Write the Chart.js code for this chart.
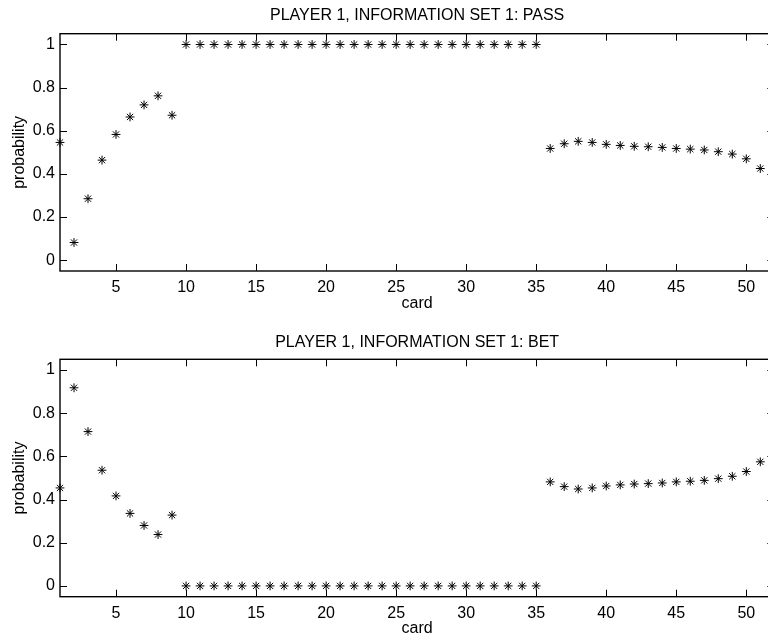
<!DOCTYPE html>
<html>
<head>
<meta charset="utf-8">
<script src="https://cdn.jsdelivr.net/npm/chart.js@4.4.0/dist/chart.umd.min.js"></script>
<style>
  html, body { margin: 0; padding: 0; background: #fff; overflow: hidden; }
  #wrap { position: relative; width: 768px; height: 641px; overflow: hidden; }
  canvas { position: absolute; left: 0; }
  #passChart { top: 0; }
  #betChart { top: 320px; }
</style>
</head>
<body>
<div id="wrap">
  <canvas id="passChart" width="790" height="320"></canvas>
  <canvas id="betChart" width="790" height="321"></canvas>
</div>
<script>
// cards 1..51
const cards = [
  1, 2, 3, 4, 5, 6, 7, 8, 9, 10, 11, 12, 13, 14, 15, 16, 17, 18, 19, 20,
  21, 22, 23, 24, 25, 26, 27, 28, 29, 30, 31, 32, 33, 34, 35, 36, 37, 38, 39, 40,
  41, 42, 43, 44, 45, 46, 47, 48, 49, 50, 51,
];

const passProb = [
  0.546, 0.082, 0.285, 0.464, 0.583, 0.664, 0.720, 0.762, 0.672,
  1, 1, 1, 1, 1, 1, 1, 1, 1, 1, 1, 1, 1, 1, 1, 1, 1, 1, 1, 1, 1, 1, 1, 1, 1, 1,
  0.518, 0.540, 0.551, 0.546, 0.537, 0.532, 0.528, 0.526, 0.523, 0.518,
  0.515, 0.511, 0.503, 0.492, 0.470, 0.425,
];

const betProb = [
  0.454, 0.918, 0.715, 0.536, 0.417, 0.336, 0.280, 0.238, 0.328,
  0, 0, 0, 0, 0, 0, 0, 0, 0, 0, 0, 0, 0, 0, 0, 0, 0, 0, 0, 0, 0, 0, 0, 0, 0, 0,
  0.482, 0.460, 0.449, 0.454, 0.463, 0.468, 0.472, 0.474, 0.477, 0.482,
  0.485, 0.489, 0.497, 0.508, 0.530, 0.575,
];

const xTicks = [5, 10, 15, 20, 25, 30, 35, 40, 45, 50];
const yTicks = [0, 0.2, 0.4, 0.6, 0.8, 1];

const FONT = "Arial, 'Liberation Sans', Helvetica, sans-serif";
const FS = 16;

// matlab style box with inward ticks on all four sides
const boxTicks = {
  id: "boxTicks",
  afterDraw(chart) {
    const { ctx, chartArea: a, scales } = chart;
    const len = 7;
    ctx.save();
    ctx.strokeStyle = "#000";
    ctx.lineWidth = 1;
    ctx.beginPath();
    xTicks.forEach((v) => {
      const px = Math.round(scales.x.getPixelForValue(v)) + 0.5;
      ctx.moveTo(px, a.bottom);
      ctx.lineTo(px, a.bottom - len);
      ctx.moveTo(px, a.top);
      ctx.lineTo(px, a.top + len);
    });
    yTicks.forEach((v) => {
      const py = Math.round(scales.y.getPixelForValue(v)) + 0.5;
      ctx.moveTo(a.left, py);
      ctx.lineTo(a.left + len, py);
      ctx.moveTo(a.right, py);
      ctx.lineTo(a.right - len, py);
    });
    ctx.stroke();
    ctx.lineWidth = 1.4;
    ctx.strokeRect(a.left, a.top, a.right - a.left, a.bottom - a.top);
    ctx.restore();
  },
};

function makeChart(id, title, values, lay) {
  const ctx = document.getElementById(id).getContext("2d");
  return new Chart(ctx, {
    type: "scatter",
    data: {
      datasets: [
        {
          data: cards.map((c, i) => ({ x: c, y: values[i] })),
          pointStyle: "star",
          radius: 4.4,
          borderColor: "#000",
          backgroundColor: "#000",
          borderWidth: 1,
          clip: false,
        },
      ],
    },
    options: {
      responsive: false,
      animation: false,
      devicePixelRatio: 1,
      layout: { padding: { left: 0, top: 0, right: 790 - 774.3, bottom: 0 } },
      plugins: {
        legend: { display: false },
        tooltip: { enabled: false },
        title: {
          display: true,
          fullSize: false,
          text: title,
          color: "#000",
          font: { family: FONT, size: FS, weight: "normal", lineHeight: 1.2 },
          padding: { top: lay.titleTop, bottom: lay.titleBottom },
        },
      },
      scales: {
        x: {
          type: "linear",
          min: 1,
          max: 52,
          afterBuildTicks: (s) => {
            s.ticks = xTicks.map((v) => ({ value: v }));
          },
          afterFit: (s) => {
            s.height = lay.xHeight;
          },
          grid: { display: false, drawTicks: false },
          border: { display: false },
          ticks: {
            color: "#000",
            padding: lay.xTickPad,
            maxRotation: 0,
            autoSkip: false,
            font: { family: FONT, size: FS },
          },
          title: {
            display: true,
            text: "card",
            color: "#000",
            font: { family: FONT, size: FS },
            padding: { top: 0, bottom: lay.xTitlePad },
          },
        },
        y: {
          type: "linear",
          min: -0.05,
          max: 1.05,
          afterBuildTicks: (s) => {
            s.ticks = yTicks.map((v) => ({ value: v }));
          },
          afterFit: (s) => {
            s.width = 60;
          },
          grid: { display: false, drawTicks: false },
          border: { display: false },
          ticks: {
            color: "#000",
            padding: 5,
            autoSkip: false,
            font: { family: FONT, size: FS },
            callback: (v) => String(Math.round(v * 10) / 10),
          },
          title: {
            display: true,
            text: "probability",
            color: "#000",
            font: { family: FONT, size: FS },
            padding: { top: 9.5, bottom: 0 },
          },
        },
      },
    },
    plugins: [boxTicks],
  });
}

makeChart("passChart", "PLAYER 1, INFORMATION SET 1: PASS", passProb, {
  titleTop: 6.4,
  titleBottom: 8.1,
  xHeight: 49,
  xTickPad: 7.4,
  xTitlePad: 6.9,
});

makeChart("betChart", "PLAYER 1, INFORMATION SET 1: BET", betProb, {
  titleTop: 12.9,
  titleBottom: 7.2,
  xHeight: 44.3,
  xTickPad: 7.2,
  xTitlePad: 2.4,
});
</script>
</body>
</html>
